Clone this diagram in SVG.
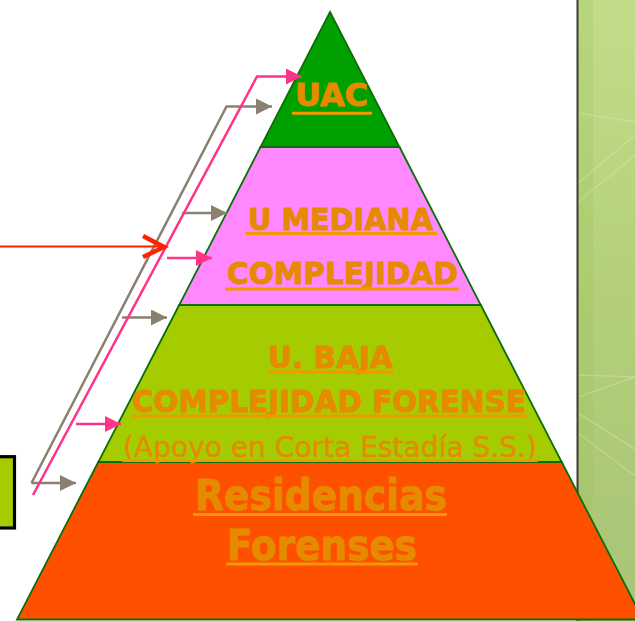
<svg xmlns="http://www.w3.org/2000/svg" width="635" height="621" viewBox="0 0 635 621">
<defs>
<linearGradient id="pg" x1="0" y1="0" x2="0" y2="1">
<stop offset="0" stop-color="#C2DD8A"/>
<stop offset="0.5" stop-color="#B2CF78"/>
<stop offset="1" stop-color="#A8C478"/>
</linearGradient>
<marker id="ag" markerUnits="userSpaceOnUse" markerWidth="17" markerHeight="16" refX="16" refY="8" orient="auto">
<path d="M0,0 L16,8 L0,16 Z" fill="#8A8070"/>
</marker>
<marker id="ap" markerUnits="userSpaceOnUse" markerWidth="17" markerHeight="16" refX="16" refY="8" orient="auto">
<path d="M0,0 L16,8 L0,16 Z" fill="#FF3388"/>
</marker>
<style>
.tier{stroke:#0A6E0A;stroke-width:1.8}
.b{font-family:"DejaVu Sans","Verdana",sans-serif;font-weight:bold;fill:#E68A00;stroke:#E68A00;stroke-width:1;stroke-linejoin:round}
.r{font-family:"DejaVu Sans","Verdana",sans-serif;fill:#E68A00;stroke:#E68A00;stroke-width:0.4}
.ul{stroke:#F39800;stroke-width:3}
.g{fill:none;stroke:#8A8070;stroke-width:2.5}
.p{fill:none;stroke:#FF3388;stroke-width:2.5}
.pl{stroke:#FFFFFF;stroke-opacity:0.2;stroke-width:1.5}
</style>
</defs>
<g id="panel">
<rect x="577" y="0" width="60" height="621" fill="url(#pg)"/>
<rect x="578" y="0" width="15" height="621" fill="#9DBE55" fill-opacity="0.25"/>
<line class="pl" x1="578" y1="113" x2="635" y2="122"/>
<line class="pl" x1="578" y1="183" x2="635" y2="135"/>
<line class="pl" x1="578" y1="202" x2="635" y2="155"/>
<line class="pl" x1="578" y1="375" x2="635" y2="377"/>
<line class="pl" x1="578" y1="397" x2="635" y2="377"/>
<line class="pl" x1="578" y1="413" x2="635" y2="449"/>
<line class="pl" x1="578" y1="433" x2="635" y2="476"/>
<line x1="577.5" y1="0" x2="577.5" y2="621" stroke="#3A3A3A" stroke-width="2"/>
</g>
<g id="tier-residencias">
<polygon class="tier" points="98.3,462 561.7,462 643,619.5 17,619.5" fill="#FF5000"/>
<text class="b" x="195" y="510" font-size="43" textLength="252" lengthAdjust="spacingAndGlyphs">Residencias</text>
<line class="ul" x1="193" y1="514.5" x2="447" y2="514.5"/>
<text class="b" x="227" y="560" font-size="43" textLength="190" lengthAdjust="spacingAndGlyphs">Forenses</text>
<line class="ul" x1="226" y1="564" x2="418" y2="564"/>
</g>
<g id="tier-baja">
<polygon class="tier" points="179.2,305 480.8,305 561.7,462 98.3,462" fill="#A5CC00"/>
<text class="b" x="268" y="368" font-size="31" textLength="125" lengthAdjust="spacingAndGlyphs">U. BAJA</text>
<line class="ul" x1="268" y1="372" x2="393" y2="372"/>
<text class="b" x="132" y="412" font-size="31" textLength="394" lengthAdjust="spacingAndGlyphs">COMPLEJIDAD FORENSE</text>
<line class="ul" x1="132" y1="416" x2="527" y2="416"/>
<text class="r" x="123" y="457" font-size="29" textLength="414" lengthAdjust="spacingAndGlyphs">(Apoyo en Corta Estadía S.S.)</text>
<line class="ul" x1="122" y1="460.5" x2="538" y2="460.5" stroke-width="2"/>
</g>
<g id="tier-mediana">
<polygon class="tier" points="260.5,147 399.5,147 480.8,305 179.2,305" fill="#FF88FF"/>
<text class="b" x="248" y="229.5" font-size="31" textLength="185" lengthAdjust="spacingAndGlyphs">U MEDIANA</text>
<line class="ul" x1="246" y1="233.5" x2="437" y2="233.5"/>
<text class="b" x="227" y="284" font-size="31" textLength="231" lengthAdjust="spacingAndGlyphs">COMPLEJIDAD</text>
<line class="ul" x1="225" y1="289" x2="459" y2="289"/>
</g>
<g id="tier-uac">
<polygon class="tier" points="330,12 399.5,147 260.5,147" fill="#00A000"/>
<text class="b" x="295" y="105.7" font-size="32" textLength="73" lengthAdjust="spacingAndGlyphs">UAC</text>
<line class="ul" x1="292" y1="113.3" x2="372" y2="113.3"/>
</g>
<g id="left-box">
<rect x="-5" y="456.7" width="19.5" height="71.3" fill="#A5CC00" stroke="#000000" stroke-width="3.2"/>
</g>
<g id="connectors">
<path class="g" d="M31.5,483 L226.5,106.5 L272,106.5" marker-end="url(#ag)"/>
<path class="g" d="M31.5,483 L76,483" marker-end="url(#ag)"/>
<path class="g" d="M182,213 L227,213" marker-end="url(#ag)"/>
<path class="g" d="M122,317.5 L167,317.5" marker-end="url(#ag)"/>
<path class="p" d="M33,495 L257,76.5 L302,76.5" marker-end="url(#ap)"/>
<path class="p" d="M167,258 L212,258" marker-end="url(#ap)"/>
<path class="p" d="M76,424 L121,424" marker-end="url(#ap)"/>
<line x1="0" y1="246.5" x2="162" y2="246.5" stroke="#FF2200" stroke-width="2.2"/>
<polyline points="143,236 164,247 143,257" fill="none" stroke="#FF2200" stroke-width="4.5"/>
</g>
</svg>
